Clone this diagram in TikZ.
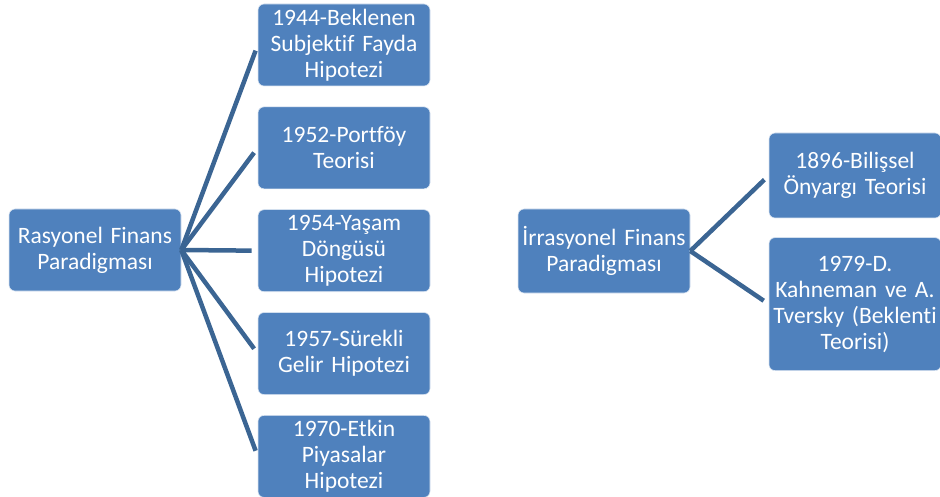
\documentclass[tikz,border=0pt]{standalone}
\usepackage{fontspec}
\setmainfont{Carlito}[Ligatures=NoCommon]
\usepackage{xcolor}
\usepackage{tikz}
\usetikzlibrary{positioning}

\definecolor{boxblue}{HTML}{4F81BD}
\definecolor{linkblue}{HTML}{3B6593}

\begin{document}
\begin{tikzpicture}[
    x=1pt, y=1pt,
    paradigm/.style={rectangle, rounded corners=6pt, fill=boxblue, draw=white!80!boxblue, line width=0.6pt, text=white, align=center, text width=166pt, inner xsep=3pt, inner ysep=0pt, minimum height=84pt, font=\fontsize{23.5}{26}\selectfont},
    theory/.style={paradigm, minimum height=82pt},
    branch/.style={line width=4.5pt, linkblue, shorten >=6pt},
    node distance=20.25pt
]
    \useasboundingbox (0,0) rectangle (940,-497);
    \clip (0,0) rectangle (940,-497);

    % Rasyonel paradigma
    \node[paradigm, minimum height=82pt] (rasyonel) at (95,-250) {Rasyonel~Finans\\Paradigması};

    % Rasyonel teoriler
    \node[theory] (t1944) at (344,-45) {1944-Beklenen\\Subjektif~Fayda\\Hipotezi};
    \node[theory, below=of t1944] (t1952) {1952-Portföy\\Teorisi};
    \node[theory, below=of t1952] (t1954) {1954-Yaşam\\Döngüsü\\Hipotezi};
    \node[theory, below=of t1954] (t1957) {1957-Sürekli\\Gelir~Hipotezi};
    \node[theory, below=of t1957] (t1970) {1970-Etkin\\Piyasalar\\Hipotezi};

    % İrrasyonel paradigma
    \node[paradigm] (irrasyonel) at (604,-251) {İrrasyonel~Finans\\Paradigması};

    % İrrasyonel teoriler
    \node[theory, minimum height=85pt] (t1896) at (855,-175.5) {1896-Bilişsel\\Önyargı~Teorisi};
    \node[theory, minimum height=133pt, below=19pt of t1896] (t1979) {1979-D.\\Kahneman~ve~A.\\Tversky~(Beklenti\\Teorisi)};

    % Rasyonel dallar
    \draw[branch] (rasyonel.east) -- (t1944.west);
    \draw[branch] (rasyonel.east) -- (t1952.west);
    \draw[branch] (rasyonel.east) -- (t1954.west);
    \draw[branch] (rasyonel.east) -- (t1957.west);
    \draw[branch] (rasyonel.east) -- (t1970.west);

    % İrrasyonel dallar
    \draw[branch] (irrasyonel.east) -- (t1896.west);
    \draw[branch] (irrasyonel.east) -- (t1979.west);
\end{tikzpicture}
\end{document}
